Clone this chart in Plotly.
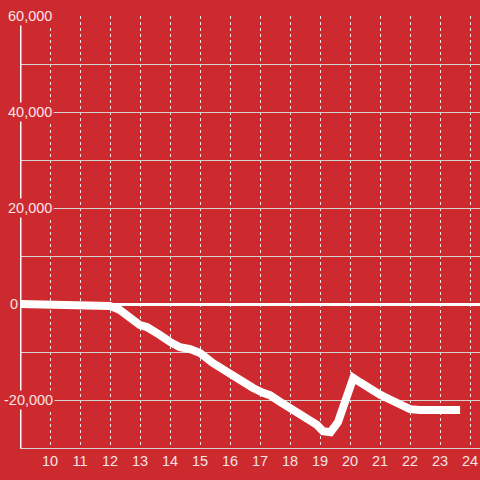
import plotly.graph_objects as go

hours = [9, 10, 11, 11.33, 11.5, 12, 12.33, 12.67, 13, 13.23, 13.43, 13.67, 14, 14.33, 14.67, 15,
         15.43, 15.67, 15.9, 16.23, 16.43, 16.77, 17.1, 17.33, 17.67, 18, 18.33, 18.67, 18.9,
         19.1, 19.35, 19.6, 20.11, 20.33, 20.67, 21, 21.33, 21.67, 22, 22.33, 23, 23.67]
values = [0, 0, 0, 0, -400, -400, -1250, -2700, -4400, -4800, -5400, -6500, -7900, -9000, -9400,
          -10200, -12300, -13300, -14000, -15400, -16500, -17500, -18500, -19000, -20400, -21700,
          -23100, -24600, -25200, -26500, -26700, -24600, -15400, -16300, -17800, -18900, -19900,
          -21000, -21900, -22100, -22100, -22100]

x_ticks = list(range(10, 25))
y_label_vals = [60000, 40000, 20000, 0, -20000]
y_label_text = ["60,000", "40,000", "20,000", "0", "-20,000"]

BG = "#cc2a2f"
TXT = "#f6e4e4"
FONT = "Liberation Sans, Arial, sans-serif"

fig = go.Figure()
fig.add_trace(go.Scatter(x=hours, y=values, mode="lines",
                         line=dict(color="white", width=8), hoverinfo="skip"))

W = 480
L = 20
plot_w = W - L
# left pixel edges for labels
left_px = {"60,000": 6, "40,000": 6, "20,000": 6, "0": 8, "-20,000": 2}
annotations = []
for v, t in zip(y_label_vals, y_label_text):
    annotations.append(dict(
        x=(left_px[t] - L) / plot_w, xref="paper", xanchor="left",
        y=v, yref="y", yanchor="middle", text=t, showarrow=False,
        font=dict(family=FONT, size=14.5, color=TXT),
        bgcolor=BG, borderpad=1))

fig.update_layout(
    width=480, height=480,
    margin=dict(l=L, r=0, t=16, b=32, autoexpand=False),
    paper_bgcolor=BG, plot_bgcolor=BG,
    showlegend=False,
    annotations=annotations,
    shapes=[dict(type="line", xref="x", yref="paper", x0=9, x1=9, y0=0, y1=1,
                 line=dict(color="white", width=3), layer="above")],
    xaxis=dict(range=[9, 9 + plot_w / 30], tickvals=x_ticks, ticktext=[str(t) for t in x_ticks],
               showgrid=True, gridcolor="#f2eaea", griddash="dot", gridwidth=1,
               zeroline=False, showline=True, linecolor="#d8d0d0", linewidth=1,
               automargin=False,
               ticks="", tickfont=dict(family=FONT, size=14.5, color=TXT)),
    yaxis=dict(range=[-30000, 60000], dtick=10000, showticklabels=False,
               showgrid=True, gridcolor="#d9d0d0", gridwidth=1, automargin=False,
               zeroline=True, zerolinecolor="white", zerolinewidth=3, ticks=""),
)

fig.write_html("out.html", config={"displayModeBar": False},
               post_script="document.body.style.margin='0';")
